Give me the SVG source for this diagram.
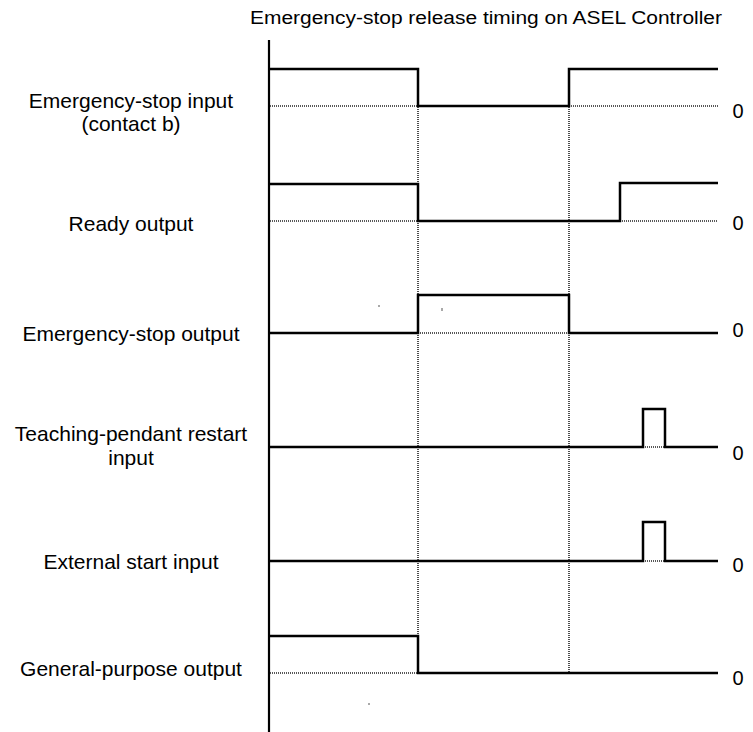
<svg xmlns="http://www.w3.org/2000/svg" width="753" height="732" viewBox="0 0 753 732">
<style>
text{font-family:"Liberation Sans",Arial,sans-serif;fill:#000}
.lbl{font-size:21px;text-anchor:middle}
.zero{font-size:20px;text-anchor:middle}
.sig{fill:none;stroke:#000;stroke-width:2.5;stroke-linejoin:miter;stroke-linecap:butt}
.dot{fill:none;stroke:#222;stroke-width:1.6;stroke-dasharray:1 1}
.axis{fill:none;stroke:#000;stroke-width:2.2}
</style>
<rect width="753" height="732" fill="#fff"/>
<text id="title" x="250" y="24" font-size="17.5" textLength="472" lengthAdjust="spacingAndGlyphs">Emergency-stop release timing on ASEL Controller</text>
<line class="axis" x1="269" y1="40" x2="269" y2="732"/>
<g id="connectors">
<line class="dot" x1="418" y1="107" x2="418" y2="636"/>
<line class="dot" x1="569" y1="107" x2="569" y2="673"/>
</g>
<g id="row-estop-input">
<text class="lbl" x="131" y="108">Emergency-stop input</text>
<text class="lbl" x="131" y="131">(contact b)</text>
<line class="dot" x1="270" y1="106" x2="418" y2="106"/>
<line class="dot" x1="569" y1="106" x2="718" y2="106"/>
<polyline class="sig" points="270,69 418,69 418,106 569,106 569,69 718,69"/>
<text class="zero" x="738" y="118">0</text>
</g>
<g id="row-ready-output">
<text class="lbl" x="131" y="231">Ready output</text>
<line class="dot" x1="270" y1="221" x2="418" y2="221"/>
<line class="dot" x1="620" y1="221" x2="718" y2="221"/>
<polyline class="sig" points="270,184 418,184 418,221 620,221 620,183 718,183"/>
<text class="zero" x="738" y="230">0</text>
</g>
<g id="row-estop-output">
<text class="lbl" x="131" y="341">Emergency-stop output</text>
<line class="dot" x1="418" y1="333" x2="569" y2="333"/>
<polyline class="sig" points="270,333 418,333 418,295 569,295 569,333 718,333"/>
<text class="zero" x="738" y="337">0</text>
<rect x="378.5" y="305" width="1" height="2" fill="#555"/>
<rect x="441.5" y="308" width="1" height="3" fill="#555"/>
</g>
<g id="row-tp-restart">
<text class="lbl" x="131" y="441">Teaching-pendant restart</text>
<text class="lbl" x="131" y="465">input</text>
<line class="dot" x1="643" y1="447" x2="665" y2="447"/>
<polyline class="sig" points="270,447 643,447 643,409 665,409 665,447 718,447"/>
<text class="zero" x="738" y="460">0</text>
</g>
<g id="row-ext-start">
<text class="lbl" x="131" y="569">External start input</text>
<line class="dot" x1="643" y1="561" x2="665" y2="561"/>
<polyline class="sig" points="270,561 643,561 643,522 665,522 665,561 718,561"/>
<text class="zero" x="738" y="572">0</text>
</g>
<g id="row-gp-output">
<text class="lbl" x="131" y="676">General-purpose output</text>
<line class="dot" x1="270" y1="673" x2="418" y2="673"/>
<polyline class="sig" points="270,636 418,636 418,673 718,673"/>
<text class="zero" x="738" y="685">0</text>
<rect x="368.5" y="703" width="1" height="2" fill="#555"/>
</g>
</svg>
